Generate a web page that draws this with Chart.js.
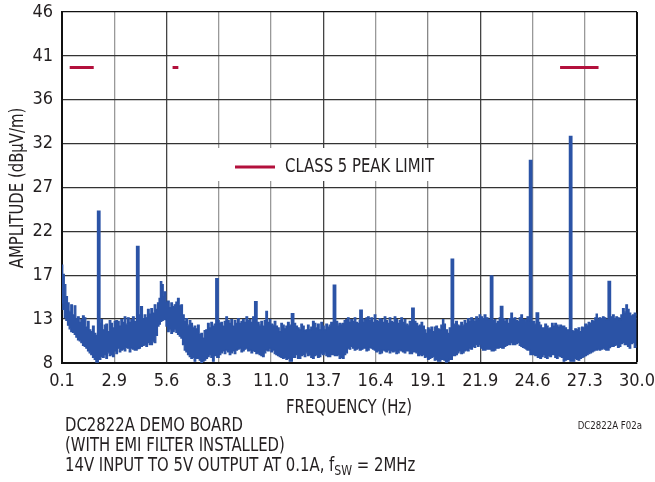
<!DOCTYPE html>
<html>
<head>
<meta charset="utf-8">
<script src="https://cdn.jsdelivr.net/npm/chart.js@4.4.1/dist/chart.umd.min.js"></script>
<style>
  html, body { margin: 0; padding: 0; background: #fff; }
  #wrap { width: 655px; height: 482px; }
</style>
</head>
<body>
<div id="wrap"><canvas id="grafico" width="655" height="482"></canvas></div>
<script>
// noise floor (MHz / dBuV/m): top and bottom of the band
const freqBand = [
  0.10, 0.18, 0.26, 0.34, 0.43, 0.51, 0.60, 0.69, 0.78, 0.86, 0.95, 1.04, 1.12, 1.21, 1.30, 1.38, 1.47, 1.55, 1.64, 1.73, 1.82, 1.90,
  2.08, 2.16, 2.25, 2.34, 2.42, 2.51, 2.60, 2.68, 2.77, 2.86, 2.94, 3.03, 3.12, 3.20, 3.29, 3.38, 3.46, 3.55, 3.64, 3.72, 3.81, 3.90,
  4.12, 4.24, 4.33, 4.42, 4.50, 4.59, 4.68, 4.76, 4.85, 4.94, 5.02, 5.11, 5.18, 5.25, 5.33, 5.40, 5.46, 5.55, 5.63, 5.72, 5.80, 5.89,
  5.98, 6.06, 6.15, 6.24, 6.32, 6.41, 6.50, 6.58, 6.67, 6.76, 6.84, 6.93, 7.01, 7.10, 7.19, 7.28, 7.36, 7.45, 7.53, 7.62, 7.71, 7.80,
  7.88, 7.97, 8.06, 8.23, 8.32, 8.40, 8.49, 8.58, 8.66, 8.75, 8.84, 8.92, 9.01, 9.10, 9.18, 9.27, 9.36, 9.45, 9.53, 9.62, 9.71, 9.80,
  9.88, 9.97, 10.06, 10.30, 10.40, 10.48, 10.57, 10.66, 10.74, 10.83, 10.92, 11.00, 11.09, 11.18, 11.26, 11.35, 11.44, 11.52, 11.61,
  11.70, 11.78, 11.87, 11.96, 12.20, 12.30, 12.39, 12.48, 12.56, 12.65, 12.74, 12.82, 12.91, 12.99, 13.08, 13.17, 13.26, 13.34, 13.43,
  13.52, 13.60, 13.69, 13.78, 13.86, 13.95, 14.03, 14.12, 14.40, 14.47, 14.55, 14.64, 14.73, 14.81, 14.90, 14.99, 15.07, 15.16, 15.25,
  15.34, 15.42, 15.51, 15.60, 15.72, 15.78, 15.86, 15.95, 16.03, 16.12, 16.20, 16.29, 16.38, 16.46, 16.55, 16.64, 16.72, 16.81, 16.90,
  16.98, 17.07, 17.16, 17.24, 17.33, 17.42, 17.50, 17.59, 17.68, 17.76, 17.85, 17.94, 18.02, 18.11, 18.20, 18.46, 18.55, 18.64, 18.73,
  18.81, 18.90, 18.99, 19.06, 19.15, 19.24, 19.32, 19.41, 19.50, 19.58, 19.67, 19.76, 19.84, 19.93, 19.98, 20.10, 20.19, 20.28, 20.52,
  20.62, 20.70, 20.79, 20.88, 20.97, 21.05, 21.14, 21.23, 21.31, 21.40, 21.49, 21.57, 21.66, 21.75, 21.83, 21.92, 22.01, 22.09, 22.20,
  22.30, 22.53, 22.62, 22.70, 22.79, 22.88, 23.05, 23.14, 23.22, 23.31, 23.40, 23.48, 23.57, 23.66, 23.74, 23.83, 23.92, 24.00, 24.09,
  24.18, 24.26, 24.30, 24.56, 24.64, 24.73, 24.90, 24.99, 25.08, 25.16, 25.25, 25.34, 25.42, 25.51, 25.60, 25.68, 25.77, 25.86, 25.94,
  26.03, 26.12, 26.20, 26.29, 26.38, 26.64, 26.72, 26.81, 26.89, 26.98, 27.07, 27.16, 27.24, 27.33, 27.42, 27.50, 27.59, 27.68, 27.76,
  27.85, 27.90, 27.98, 28.07, 28.16, 28.25, 28.33, 28.42, 28.68, 28.77, 28.86, 28.94, 29.03, 29.12, 29.20, 29.29, 29.38, 29.46, 29.55,
  29.63, 29.72, 29.81, 29.90, 29.98
];
const bandTop = [
  18.6, 17.6, 16.5, 15.2, 14.5, 13.6, 14.3, 13.2, 14.2, 12.8, 13.0, 12.4, 12.7, 13.1, 12.9, 11.9, 12.5, 11.6, 11.4, 12.0, 11.2, 11.0,
  12.3, 12.7, 11.6, 12.1, 12.2, 11.4, 12.6, 12.3, 11.8, 12.5, 12.6, 12.5, 12.0, 12.7, 12.4, 13.0, 12.2, 12.9, 12.4, 12.7, 13.0, 12.5,
  13.2, 14.1, 12.8, 13.2, 12.9, 13.8, 13.3, 13.9, 13.4, 14.3, 13.8, 14.5, 15.0, 16.8, 16.5, 15.2, 15.7, 14.6, 14.7, 14.0, 14.5, 14.1,
  14.3, 14.6, 15.0, 14.2, 14.3, 13.2, 12.5, 12.8, 12.1, 12.6, 12.3, 11.8, 12.0, 11.7, 12.1, 11.1, 11.2, 10.7, 11.5, 11.6, 12.3, 11.8,
  12.4, 12.0, 12.2, 12.6, 12.3, 12.4, 12.0, 12.5, 13.0, 12.6, 12.3, 12.7, 12.0, 12.6, 12.3, 12.8, 12.3, 12.5, 12.7, 12.4, 13.0, 12.6,
  12.7, 12.4, 13.0, 12.4, 12.1, 12.5, 12.0, 12.6, 13.6, 12.4, 12.7, 12.2, 12.1, 12.5, 12.0, 11.8, 11.4, 12.3, 12.1,
  11.7, 12.0, 12.4, 12.1, 12.3, 12.0, 11.8, 11.6, 12.2, 12.0, 11.5, 11.6, 12.1, 11.6, 11.9, 12.5, 12.3, 11.8, 12.2,
  11.6, 12.4, 12.0, 11.6, 12.2, 11.9, 12.1, 12.4, 12.5, 12.1, 12.3, 12.2, 12.3, 12.6, 12.7, 12.9, 12.4, 12.7, 12.5,
  12.9, 12.4, 12.3, 12.6, 12.8, 12.4, 12.7, 12.9, 13.0, 12.6, 12.9, 12.4, 13.2, 12.6, 12.5, 12.8, 12.7, 12.4, 13.0,
  12.6, 12.3, 12.9, 12.5, 12.4, 13.0, 12.7, 12.3, 12.6, 12.9, 12.4, 12.7, 12.2, 12.1, 12.5, 12.5, 12.3, 12.0, 12.1,
  12.4, 12.0, 11.6, 11.2, 11.8, 11.6, 11.9, 11.4, 11.9, 12.0, 11.7, 11.6, 12.1, 12.7, 12.2, 11.6, 11.2, 11.8, 12.2,
  12.5, 12.1, 12.0, 12.4, 12.1, 12.6, 12.3, 12.8, 12.5, 12.9, 12.7, 12.5, 13.0, 12.7, 13.2, 13.0, 12.8, 13.2, 12.9,
  12.7, 12.6, 12.7, 12.3, 12.5, 12.9, 12.8, 12.5, 12.7, 12.3, 12.8, 13.4, 12.8, 12.9, 12.6, 12.5, 12.9, 13.2, 12.7,
  12.7, 12.5, 13.0, 12.5, 12.5, 12.2, 12.4, 12.1, 11.8, 11.8, 12.2, 12.0, 11.7, 11.8, 12.3, 12.0, 12.3, 12.1, 11.9,
  12.1, 12.0, 12.0, 11.8, 11.6, 11.5, 11.4, 11.7, 11.6, 11.8, 11.4, 11.9, 11.8, 12.2, 12.1, 12.4, 12.3, 12.6, 12.5,
  12.9, 13.3, 12.7, 12.9, 12.8, 13.0, 12.9, 12.7, 13.0, 13.2, 12.8, 13.0, 12.9, 12.7, 13.2, 13.9, 13.5, 14.3, 13.8,
  13.4, 13.1, 13.2, 13.4, 13.2
];
const bandLow = [
  14.5, 13.8, 12.9, 12.6, 12.1, 11.7, 11.4, 11.3, 11.1, 10.8, 10.5, 10.4, 10.2, 9.9, 9.8, 9.6, 9.3, 9.1, 8.9, 8.6, 8.4, 8.1,
  8.4, 8.7, 8.6, 8.9, 8.5, 9.1, 8.8, 8.9, 8.7, 9.3, 9.0, 9.6, 9.2, 9.4, 9.5, 9.3, 9.7, 9.6, 9.2, 9.6, 9.5, 9.4,
  9.6, 9.8, 9.9, 10.0, 9.8, 10.2, 10.0, 10.0, 10.3, 10.2, 11.0, 12.0, 12.2, 12.5, 12.6, 12.8, 12.7, 12.0, 11.4, 11.6, 11.2, 11.4,
  11.6, 11.3, 11.1, 10.9, 10.7, 10.0, 9.4, 9.2, 8.9, 8.7, 8.5, 8.6, 8.2, 8.5, 8.5, 8.3, 8.0, 8.2, 8.3, 8.5, 8.7, 8.9,
  8.6, 8.2, 8.8, 8.6, 8.9, 9.1, 9.3, 9.0, 9.4, 9.2, 8.9, 9.1, 9.3, 9.0, 9.4, 9.5, 9.6, 9.2, 9.3, 9.5, 9.6, 9.3,
  9.4, 9.1, 9.3, 9.0, 8.9, 8.8, 8.7, 9.1, 9.4, 9.3, 9.6, 9.2, 9.4, 9.0, 8.9, 8.8, 8.7, 8.6, 8.5,
  8.6, 8.4, 8.5, 8.2, 8.6, 8.9, 8.5, 8.5, 8.8, 8.9, 8.7, 9.1, 8.8, 8.9, 8.6, 8.5, 8.8, 8.9, 8.6,
  8.7, 9.0, 8.9, 9.1, 8.8, 8.7, 8.7, 8.9, 8.8, 8.9, 8.5, 8.6, 8.5, 8.9, 9.1, 9.6, 9.5, 9.8, 9.6,
  9.4, 9.5, 9.6, 9.4, 9.5, 9.6, 9.6, 9.3, 9.4, 9.7, 9.6, 9.5, 9.4, 9.2, 9.3, 9.0, 9.1, 9.4, 9.3,
  9.2, 9.4, 9.1, 9.3, 9.2, 9.3, 9.0, 9.1, 9.4, 9.3, 9.2, 9.1, 9.3, 9.3, 9.0, 9.2, 9.1, 8.8, 8.9,
  8.8, 8.9, 8.6, 8.7, 8.4, 8.5, 8.6, 8.7, 8.3, 8.4, 8.2, 8.2, 8.4, 8.4, 8.3, 8.1, 8.2, 8.4, 8.8,
  8.9, 9.1, 9.3, 9.0, 9.1, 9.3, 9.4, 9.3, 9.6, 9.5, 9.8, 9.7, 10.0, 9.8, 10.0, 9.6, 9.4, 9.4, 9.5,
  9.5, 9.3, 9.4, 9.6, 9.6, 9.7, 9.6, 9.8, 9.9, 10.0, 10.0, 10.2, 10.0, 10.0, 10.1, 10.2, 9.9, 9.8, 9.7,
  9.6, 9.5, 9.4, 8.9, 8.9, 8.8, 8.6, 8.5, 8.7, 8.9, 8.6, 8.5, 8.8, 8.7, 8.9, 8.9, 8.6, 8.5, 8.8,
  8.7, 8.6, 8.2, 8.3, 8.4, 8.2, 8.2, 8.5, 8.4, 8.3, 8.5, 8.6, 8.7, 8.8, 8.9, 9.0, 9.1, 9.2, 9.3,
  9.4, 9.4, 9.5, 9.4, 9.5, 9.6, 9.5, 9.4, 9.8, 9.8, 9.9, 10.0, 9.7, 9.8, 10.1, 10.2, 10.0, 10.0, 9.8,
  9.6, 10.1, 10.2, 9.7, 9.8
];

// narrow spurs (harmonics of fSW and others)
const spikeFreq = [2.01, 4.04, 8.16, 10.18, 12.09, 14.27, 15.65, 18.35, 20.40, 22.44, 22.96, 24.47, 24.82, 26.55, 28.56];
const spikeTop  = [24.5, 20.7, 17.2, 14.7, 13.4, 16.5, 13.8, 14.0, 19.3, 17.5, 14.2, 30.0, 13.5, 32.6, 16.9];
const spikeBase = [9.0, 9.5, 9.0, 9.2, 9.0, 9.0, 9.5, 9.2, 8.8, 9.5, 9.8, 9.4, 9.0, 8.5, 9.6];

// CLASS 5 peak limit segments
const limitStart = [0.50, 5.85, 26.0];
const limitEnd   = [1.75, 6.15, 28.0];
const limitLevel = [40, 40, 40];

const xTickLabels = ['0.1', '2.9', '5.6', '8.3', '11.0', '13.7', '16.4', '19.1', '21.9', '24.6', '27.3', '30.0'];
const yTickLabels = ['8', '13', '17', '22', '27', '32', '36', '41', '46'];

const FONT = '"DejaVu Sans Condensed", "Liberation Sans Narrow", sans-serif';
const BLUE = '#2b53a6';
const RED = '#b3103c';
const INK = '#231f20';

const topPts = freqBand.map((f, i) => ({ x: f, y: bandTop[i] }));
const lowPts = freqBand.map((f, i) => ({ x: f, y: bandLow[i] }));
const spikePts = [];
spikeFreq.forEach((f, i) => {
    spikePts.push({ x: f, y: spikeBase[i] }, { x: f, y: spikeTop[i] }, { x: f, y: null });
});
const limitPts = [];
limitStart.forEach((s, i) => {
    limitPts.push({ x: s, y: limitLevel[i] }, { x: limitEnd[i], y: limitLevel[i] }, { x: limitEnd[i], y: null });
});

const xMin = 0.1, xMax = 30.0, yMin = 8, yMax = 46;
const vGridColors = ['#222', '#999', '#444', '#999', '#999', '#444', '#999', '#888', '#444', '#999', '#999', '#111'];

// texto estreito: DejaVu condensada comprimida na horizontal
function textoEstreito(ctx, txt, x, y, align, size) {
    const sx = 0.87;
    ctx.save();
    ctx.font = size + 'px ' + FONT;
    ctx.textAlign = align;
    ctx.translate(x, y);
    ctx.scale(sx, 1);
    ctx.fillText(txt, 0, 0);
    const w = ctx.measureText(txt).width * sx;
    ctx.restore();
    return w;
}

const textos = {
    id: 'textos',
    afterDatasetsDraw(chart) {
        const ctx = chart.ctx;
        ctx.save();
        // caixa da legenda
        ctx.fillStyle = '#fff';
        ctx.fillRect(218, 148, 238, 33);
        ctx.strokeStyle = RED;
        ctx.lineWidth = 3;
        ctx.beginPath();
        ctx.moveTo(235, 167);
        ctx.lineTo(275, 167);
        ctx.stroke();
        ctx.fillStyle = INK;
        ctx.textBaseline = 'middle';
        textoEstreito(ctx, 'CLASS 5 PEAK LIMIT', 285, 167, 'left', 19);
        ctx.restore();
    },
    afterDraw(chart) {
        const ctx = chart.ctx;
        ctx.save();
        ctx.fillStyle = INK;
        ctx.textBaseline = 'middle';

        ctx.save();
        ctx.translate(18, 188);
        ctx.rotate(-Math.PI / 2);
        textoEstreito(ctx, 'AMPLITUDE (dBµV/m)', 0, 0, 'center', 19);
        ctx.restore();

        textoEstreito(ctx, 'FREQUENCY (Hz)', 349, 408, 'center', 19);

        textoEstreito(ctx, 'DC2822A DEMO BOARD', 65, 426, 'left', 19);
        textoEstreito(ctx, '(WITH EMI FILTER INSTALLED)', 65, 446, 'left', 19);
        let x = 65;
        x += textoEstreito(ctx, '14V INPUT TO 5V OUTPUT AT 0.1A, f', x, 466, 'left', 19);
        x += textoEstreito(ctx, 'SW', x, 471, 'left', 14);
        textoEstreito(ctx, ' = 2MHz', x, 466, 'left', 19);

        textoEstreito(ctx, 'DC2822A F02a', 642, 426, 'right', 11);
        ctx.restore();
    }
};

new Chart(document.getElementById('grafico').getContext('2d'), {
    type: 'line',
    data: {
        datasets: [
            { data: topPts, borderColor: BLUE, borderWidth: 1.2, pointRadius: 0, fill: false, stepped: 'middle' },
            { data: lowPts, borderColor: BLUE, backgroundColor: BLUE, borderWidth: 1.2, pointRadius: 0, fill: '-1', stepped: 'middle' },
            { data: spikePts, borderColor: BLUE, borderWidth: 3.8, pointRadius: 0, spanGaps: false, borderCapStyle: 'butt' },
            { data: limitPts, borderColor: RED, borderWidth: 3, pointRadius: 0, spanGaps: false, borderCapStyle: 'butt' }
        ]
    },
    options: {
        responsive: false,
        animation: false,
        layout: { padding: { left: 0, top: 12, right: 18, bottom: 0 } },
        plugins: { legend: { display: false }, tooltip: { enabled: false } },
        elements: { line: { tension: 0 } },
        scales: {
            x: {
                type: 'linear',
                min: xMin,
                max: xMax,
                afterFit: s => { s.height = 119; s.paddingLeft = 0; s.paddingRight = 0; },
                afterBuildTicks: s => {
                    s.ticks = xTickLabels.map((t, i) => ({ value: xMin + i * (xMax - xMin) / (xTickLabels.length - 1) }));
                },
                ticks: {
                    autoSkip: false,
                    maxRotation: 0,
                    padding: 8,
                    color: INK,
                    font: { family: FONT, size: 18 },
                    callback: (v, i) => xTickLabels[i]
                },
                grid: {
                    drawTicks: false,
                    color: c => vGridColors[c.index] || '#999',
                    lineWidth: c => (c.index === xTickLabels.length - 1 ? 2 : 1.3)
                },
                border: { display: true, color: '#111', width: 2 }
            },
            y: {
                type: 'linear',
                min: yMin,
                max: yMax,
                afterFit: s => { s.width = 62; s.paddingTop = 0; s.paddingBottom = 0; },
                afterBuildTicks: s => {
                    s.ticks = yTickLabels.map((t, i) => ({ value: yMin + i * (yMax - yMin) / (yTickLabels.length - 1) }));
                },
                ticks: {
                    autoSkip: false,
                    padding: 9,
                    color: INK,
                    font: { family: FONT, size: 18 },
                    callback: (v, i) => yTickLabels[i]
                },
                grid: {
                    drawTicks: false,
                    color: c => (c.index === yTickLabels.length - 1 ? '#111' : '#333'),
                    lineWidth: 1.3
                },
                border: { display: true, color: '#111', width: 2 }
            }
        }
    },
    plugins: [textos]
});
</script>
</body>
</html>
